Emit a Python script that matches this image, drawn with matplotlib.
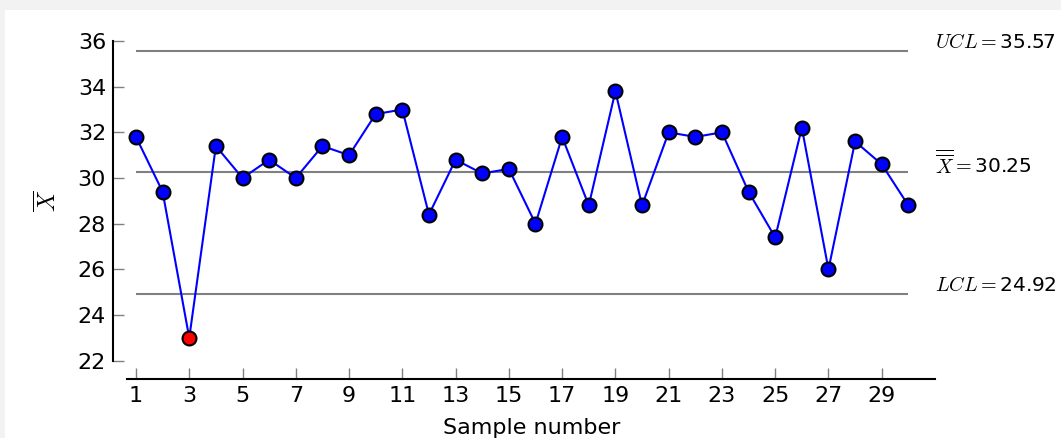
import numpy as np
import matplotlib
matplotlib.use("Agg")
import matplotlib.pyplot as plt
from matplotlib.patches import Rectangle
import matplotlib.transforms as mtransforms

plt.rcParams['mathtext.fontset'] = 'cm'

samples = np.arange(1, 31)
xbar = [31.8, 29.4, 23.0, 31.4, 30.0, 30.8, 30.0, 31.4, 31.0, 32.8,
        33.0, 28.4, 30.8, 30.2, 30.4, 28.0, 31.8, 28.8, 33.8, 28.8,
        32.0, 31.8, 32.0, 29.4, 27.4, 32.2, 26.0, 31.6, 30.6, 28.8]
ucl = 35.57
center = 30.25
lcl = 24.92

W, H = 1061, 438
fig = plt.figure(figsize=(W / 100, H / 100), dpi=100, facecolor='#f2f2f2')
fig.patches.append(Rectangle((5 / W, 0), 1, 1 - 10 / H, transform=fig.transFigure,
                             facecolor='white', edgecolor='none', zorder=-10))

ax = fig.add_axes([113 / W, 1 - 379 / H, (935 - 113) / W, (379 - 41) / H])
ax.patch.set_alpha(0)

xs = np.array(samples)
ys = np.array(xbar)
out = (ys > ucl) | (ys < lcl)

for lim in (ucl, center, lcl):
    ax.hlines(lim, xs[0], xs[-1], color='#808080', lw=1.5, zorder=1)

ax.plot(xs, ys, color='blue', lw=1.5, zorder=2)
ax.plot(xs[~out], ys[~out], 'o', ms=10, mfc='blue', mec='black', mew=1.5, zorder=3)
ax.plot(xs[out], ys[out], 'o', ms=10, mfc='red', mec='black', mew=1.5, zorder=3)

ax.set_xlim(0.137, 31.0)
ax.set_ylim(21.2, 36.0)
ax.set_xticks(np.arange(1, 31, 2))
ax.set_yticks(np.arange(22, 37, 2))

for s in ('top', 'right'):
    ax.spines[s].set_visible(False)
ax.spines['left'].set_bounds(22, 36)
ax.spines['bottom'].set_bounds(0.66, 31.0)
for s in ('left', 'bottom'):
    ax.spines[s].set_linewidth(1.5)

ax.tick_params(direction='in', length=8, width=1, color='#808080',
               labelsize=16, pad=5)

ax.set_xlabel('Sample number', fontsize=16)
ax.xaxis.set_label_coords((532 - 113) / 822, -0.115)
ax.set_ylabel(r'$\overline{X}$', fontsize=17)
ax.yaxis.set_label_coords(-(113 - 61) / 822, (379 - 201) / 338)

trans = mtransforms.blended_transform_factory(ax.transAxes, ax.transData)
labels = [(ucl, r'$UCL=$%.2f' % ucl),
          (center, r'$\overline{\overline{X}}=$%.2f' % center),
          (lcl, r'$LCL=$%.2f' % lcl)]
for val, txt in labels:
    ax.annotate(txt, xy=(1.0, val), xycoords=trans, xytext=(0, 6),
                textcoords='offset points', fontsize=14.5, va='center', ha='left')

fig.savefig('out.png', dpi=100, facecolor=fig.get_facecolor())
